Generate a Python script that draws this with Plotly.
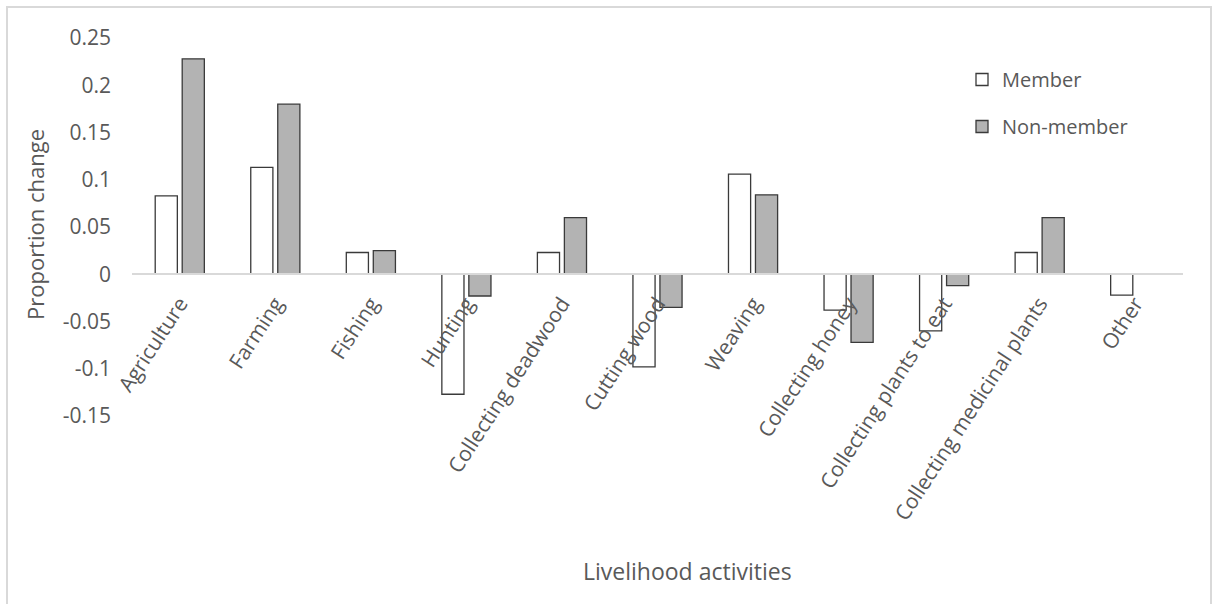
import plotly.graph_objects as go

# Livelihood activities and the change in proportion for each group
categories = [
    "Agriculture", "Farming", "Fishing", "Hunting", "Collecting deadwood",
    "Cutting wood", "Weaving", "Collecting honey", "Collecting plants to eat",
    "Collecting medicinal plants", "Other",
]
member = [0.083, 0.113, 0.023, -0.127, 0.023, -0.098, 0.106, -0.038, -0.060, 0.023, -0.022]
non_member = [0.228, 0.180, 0.025, -0.023, 0.060, -0.035, 0.084, -0.072, -0.012, 0.060, None]

y_ticks = [0.25, 0.2, 0.15, 0.1, 0.05, 0, -0.05, -0.1, -0.15]
y_tick_text = ["0.25", "0.2", "0.15", "0.1", "0.05", "0", "-0.05", "-0.1", "-0.15"]
y_range = [-0.15, 0.25]

FONT = "Open Sans, sans-serif"
TEXT = "#595959"
OUTLINE = "#3a3a3a"

W, H = 1224, 604
L, R, T, B = 132, 41, 38, 188
pw, ph = W - L - R, H - T - B


def px_x(x):
    return (x - L) / pw


def px_y(y):
    return (H - B - y) / ph


fig = go.Figure()
fig.add_trace(go.Bar(
    x=categories, y=member, name="Member", legendgroup="a",
    marker=dict(color="#ffffff", line=dict(color=OUTLINE, width=1.3)),
))
fig.add_trace(go.Bar(
    x=categories, y=non_member, name="Non-member", legendgroup="b",
    marker=dict(color="#b3b3b3", line=dict(color=OUTLINE, width=1.3)),
))

# category axis sits on the zero line
zero_pos = (0 - y_range[0]) / (y_range[1] - y_range[0])

fig.update_layout(
    width=W, height=H,
    margin=dict(l=L, r=R, t=T, b=B, autoexpand=False),
    paper_bgcolor="#ffffff", plot_bgcolor="#ffffff",
    font=dict(family=FONT, color=TEXT, size=20),
    barmode="group", bargap=0.435, bargroupgap=0.18,
    showlegend=True,
    legend=dict(
        x=px_x(962), y=px_y(60), xanchor="left", yanchor="top",
        bgcolor="rgba(0,0,0,0)", font=dict(size=20, color=TEXT),
        tracegroupgap=18, traceorder="grouped",
    ),
    xaxis=dict(
        type="category", anchor="free", position=zero_pos,
        showline=True, linecolor="#d9d9d9", linewidth=1.5,
        showgrid=False, zeroline=False, ticks="",
        tickangle=-57, tickfont=dict(size=21, color=TEXT),
        automargin=False, ticklabelstandoff=8,
    ),
    yaxis=dict(
        range=y_range, tickvals=y_ticks, ticktext=y_tick_text,
        showgrid=False, zeroline=False, showline=False, ticks="",
        tickfont=dict(size=21, color=TEXT), automargin=False,
        ticklabelstandoff=20,
    ),
    annotations=[
        dict(text="Proportion change", xref="paper", yref="paper",
             x=px_x(35), y=px_y(225), textangle=-90, showarrow=False,
             font=dict(size=22, color=TEXT), xanchor="center", yanchor="middle"),
        dict(text="Livelihood activities", xref="paper", yref="paper",
             x=px_x(687), y=px_y(571), showarrow=False,
             font=dict(size=23, color=TEXT), xanchor="center", yanchor="middle"),
    ],
    shapes=[
        dict(type="rect", xref="paper", yref="paper",
             x0=px_x(7), x1=px_x(1211), y0=px_y(640), y1=px_y(7),
             line=dict(color="#d9d9d9", width=2), fillcolor="rgba(0,0,0,0)",
             layer="below"),
    ],
)

fig.write_html("out.html")
